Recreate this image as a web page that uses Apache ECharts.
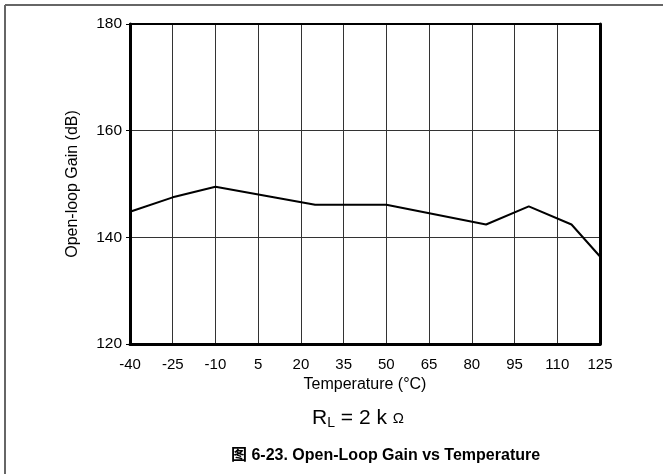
<!DOCTYPE html>
<html>
<head>
<meta charset="utf-8">
<script src="https://cdn.jsdelivr.net/npm/echarts@6/dist/echarts.min.js"></script>
<style>html,body{margin:0;padding:0;background:#fff;}#c{width:663px;height:474px;}</style>
</head>
<body>
<div id="c"></div>
<script>
var xTickLabels = ['-40','-25','-10','5','20','35','50','65','80','95','110','125'];
var temperature = [-40, -25, -10, 25, 50, 85, 100, 115, 125];
var gain = [144.8, 147.5, 149.5, 146.1, 146.1, 142.4, 145.8, 142.4, 136.4];
var yTicks = [120, 140, 160, 180];

var FONT = '"Liberation Sans", Arial, "Noto Sans CJK SC", sans-serif';
var chart = echarts.init(document.getElementById('c'), null, {renderer: 'canvas'});
var points = temperature.map(function (t, i) { return [t, gain[i]]; });

chart.setOption({
  animation: false,
  backgroundColor: '#fff',
  grid: {left: 130, right: 63, top: 24, bottom: 130, containLabel: false},
  xAxis: [{
    type: 'category', data: xTickLabels, boundaryGap: false, position: 'bottom',
    name: 'Temperature (°C)', nameLocation: 'middle', nameGap: 28,
    nameTextStyle: {fontFamily: FONT, fontSize: 16, color: '#000'},
    axisLine: {show: true, lineStyle: {color: '#000', width: 3}},
    axisTick: {show: false},
    axisLabel: {fontFamily: FONT, fontSize: 15, color: '#000', margin: 13, interval: 0},
    splitLine: {show: true, lineStyle: {color: '#333', width: 1}}
  }, {
    type: 'value', min: -40, max: 125, position: 'top',
    axisLine: {show: true, onZero: false, lineStyle: {color: '#000', width: 2}},
    axisTick: {show: false}, axisLabel: {show: false}, splitLine: {show: false}
  }],
  yAxis: [{
    type: 'value', min: yTicks[0], max: yTicks[yTicks.length - 1], interval: 20, position: 'left',
    name: 'Open-loop Gain (dB)', nameLocation: 'middle', nameGap: 49,
    nameTextStyle: {fontFamily: FONT, fontSize: 16, color: '#000'},
    axisLine: {show: true, onZero: false, lineStyle: {color: '#000', width: 3}},
    axisTick: {show: true, length: 4, lineStyle: {color: '#000', width: 1}},
    axisLabel: {fontFamily: FONT, fontSize: 15.5, color: '#000', margin: 8},
    splitLine: {show: true, lineStyle: {color: '#333', width: 1}}
  }, {
    type: 'value', min: yTicks[0], max: yTicks[yTicks.length - 1], interval: 20, position: 'right',
    axisLine: {show: true, onZero: false, lineStyle: {color: '#000', width: 3}},
    axisTick: {show: false}, axisLabel: {show: false}, splitLine: {show: false}
  }],
  series: [{
    type: 'line', xAxisIndex: 1, yAxisIndex: 0, data: points,
    showSymbol: false, symbol: 'none',
    lineStyle: {color: '#000', width: 2}
  }],
  graphic: [
    {type: 'line', shape: {x1: 5, y1: 5, x2: 5, y2: 474}, style: {stroke: '#666', lineWidth: 2}},
    {type: 'line', shape: {x1: 5, y1: 5, x2: 663, y2: 5}, style: {stroke: '#666', lineWidth: 2}},
    {type: 'text', left: 312, top: 408,
      style: {
        text: '{r|R}{s|L}{r| = 2 k }{o|Ω}',
        rich: {
          r: {fontFamily: FONT, fontSize: 21, fill: '#000'},
          s: {fontFamily: FONT, fontSize: 14, fill: '#000', padding: [10, 0, 0, 0]},
          o: {fontFamily: FONT, fontSize: 15, fill: '#000'}
        }
      }
    },
    {type: 'text', left: 231, top: 448,
      style: {text: '图 6-23. Open-Loop Gain vs Temperature', fontFamily: FONT, fontSize: 16, fontWeight: 'bold', fill: '#000'}}
  ]
});
</script>
</body>
</html>
